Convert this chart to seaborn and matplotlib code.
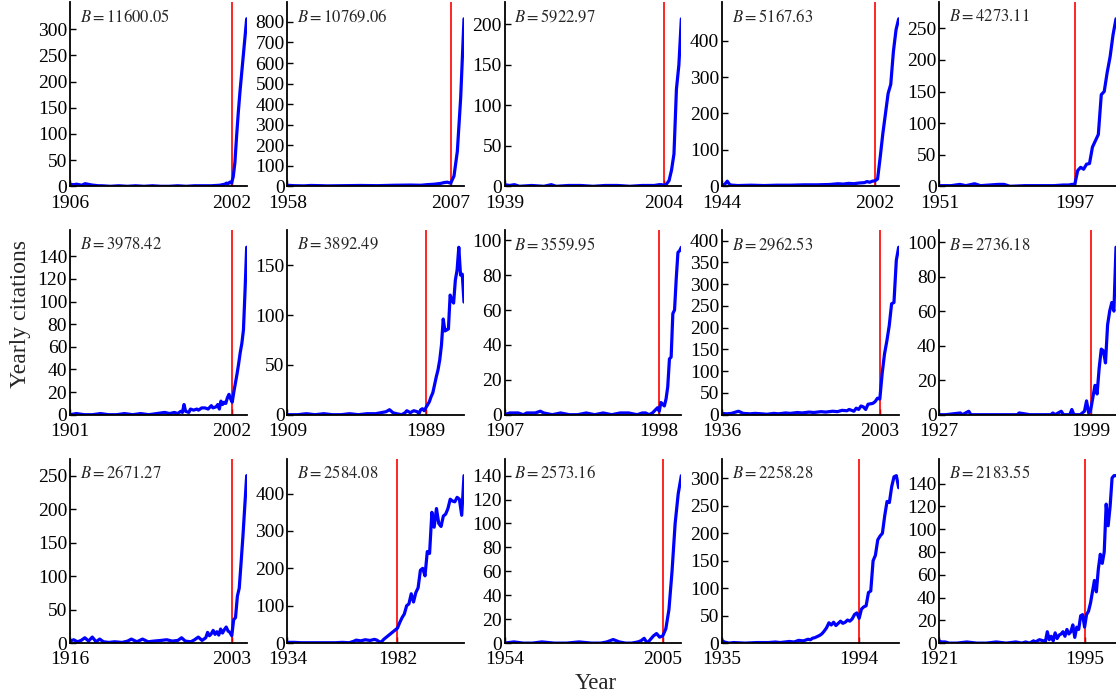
import matplotlib
matplotlib.use('Agg')
import numpy as np
import matplotlib.pyplot as plt
import seaborn as sns

# Tập dữ liệu: năm và số trích dẫn hằng năm của 15 bài báo "ngủ đông"
years_01 = [1906, 1908, 1910, 1913, 1915, 1918, 1920, 1923, 1925, 1930, 1935, 1940, 1945, 1950, 1955, 1960, 1965, 1970, 1975, 1980, 1985, 1990, 1995, 1998, 1999, 2000, 2001, 2002, 2003, 2004, 2005, 2006, 2007, 2008, 2009, 2010, 2011]
cites_01 = [4, 3, 4, 2, 5, 3, 2, 1, 1, 0, 1, 0, 1, 0, 1, 0, 0, 1, 0, 1, 1, 1, 2, 4, 6, 5, 8, 6, 18, 45, 95, 140, 180, 215, 250, 285, 320]

years_02 = [1958, 1960, 1963, 1965, 1968, 1970, 1975, 1980, 1985, 1990, 1995, 1998, 2000, 2002, 2003, 2004, 2005, 2006, 2007, 2008, 2009, 2010, 2011]
cites_02 = [5, 3, 2, 4, 3, 2, 3, 4, 3, 5, 6, 5, 8, 10, 12, 14, 18, 20, 15, 50, 170, 430, 815]

years_03 = [1939, 1941, 1943, 1945, 1950, 1955, 1958, 1960, 1965, 1970, 1975, 1980, 1985, 1990, 1995, 2000, 2002, 2003, 2004, 2005, 2006, 2007, 2008, 2009, 2010, 2011]
cites_03 = [2, 1, 2, 0, 1, 0, 2, 0, 1, 1, 0, 1, 1, 0, 1, 1, 2, 2, 1, 3, 7, 20, 40, 120, 150, 207]

years_04 = [1944, 1945, 1946, 1947, 1948, 1950, 1955, 1960, 1965, 1970, 1975, 1980, 1985, 1988, 1990, 1992, 1994, 1996, 1998, 1999, 2000, 2001, 2002, 2003, 2004, 2005, 2006, 2007, 2008, 2009, 2010, 2011]
cites_04 = [3, 5, 14, 4, 3, 2, 3, 2, 3, 3, 4, 4, 5, 7, 6, 8, 7, 9, 10, 13, 11, 14, 15, 20, 80, 145, 200, 255, 280, 370, 430, 460]

years_05 = [1951, 1955, 1958, 1960, 1963, 1965, 1968, 1971, 1973, 1975, 1980, 1985, 1990, 1993, 1995, 1996, 1997, 1998, 1999, 2000, 2001, 2002, 2003, 2004, 2005, 2006, 2007, 2008, 2009, 2010, 2011]
cites_05 = [1, 1, 3, 1, 4, 1, 2, 3, 3, 0, 1, 1, 1, 2, 2, 3, 3, 25, 30, 27, 35, 36, 62, 72, 82, 145, 150, 180, 205, 240, 265]

years_06 = [1901, 1905, 1910, 1915, 1920, 1925, 1930, 1935, 1940, 1945, 1950, 1955, 1960, 1963, 1966, 1968, 1970, 1971, 1972, 1973, 1975, 1976, 1978, 1980, 1981, 1983, 1985, 1987, 1989, 1990, 1992, 1993, 1994, 1995, 1996, 1997, 1998, 1999, 2000, 2001, 2002, 2003, 2004, 2005, 2006, 2007, 2008, 2009, 2010, 2011]
cites_06 = [0, 1, 0, 0, 1, 0, 0, 1, 0, 1, 0, 1, 2, 1, 2, 1, 3, 2, 9, 3, 2, 5, 4, 5, 4, 6, 6, 5, 8, 6, 7, 9, 5, 12, 9, 11, 10, 15, 18, 14, 11, 20, 28, 36, 45, 55, 63, 75, 110, 148]

years_07 = [1909, 1915, 1920, 1925, 1930, 1935, 1940, 1945, 1950, 1955, 1960, 1963, 1966, 1968, 1970, 1972, 1975, 1977, 1978, 1980, 1982, 1984, 1985, 1986, 1987, 1988, 1989, 1990, 1991, 1992, 1993, 1994, 1995, 1996, 1997, 1998, 1999, 2000, 2001, 2002, 2003, 2004, 2005, 2006, 2007, 2008, 2009, 2010, 2011]
cites_07 = [0, 0, 1, 0, 1, 0, 0, 1, 0, 1, 1, 2, 3, 5, 2, 1, 0, 2, 4, 2, 4, 3, 1, 5, 6, 4, 7, 10, 13, 18, 22, 30, 38, 45, 55, 70, 96, 84, 85, 86, 120, 115, 112, 135, 145, 168, 140, 141, 113]

years_08 = [1907, 1910, 1912, 1915, 1918, 1920, 1925, 1928, 1930, 1935, 1940, 1945, 1950, 1955, 1960, 1965, 1970, 1975, 1980, 1985, 1988, 1990, 1992, 1994, 1995, 1996, 1997, 1998, 1999, 2000, 2001, 2002, 2003, 2004, 2005, 2006, 2007, 2008, 2009, 2010, 2011]
cites_08 = [0, 1, 1, 1, 0, 1, 1, 2, 1, 0, 1, 0, 0, 1, 0, 1, 0, 1, 1, 0, 1, 1, 0, 1, 2, 3, 4, 2, 7, 6, 5, 9, 16, 32, 33, 58, 60, 78, 93, 94, 96]

years_09 = [1936, 1938, 1940, 1943, 1945, 1948, 1950, 1953, 1955, 1958, 1960, 1963, 1965, 1968, 1970, 1973, 1975, 1978, 1980, 1983, 1985, 1987, 1989, 1990, 1991, 1992, 1993, 1994, 1995, 1996, 1997, 1998, 1999, 2000, 2001, 2002, 2003, 2004, 2005, 2006, 2007, 2008, 2009, 2010, 2011]
cites_09 = [3, 2, 3, 8, 3, 2, 3, 2, 1, 3, 2, 4, 3, 5, 4, 6, 5, 7, 6, 8, 7, 10, 9, 12, 10, 8, 15, 12, 20, 18, 12, 24, 25, 26, 30, 38, 36, 95, 140, 170, 205, 255, 258, 355, 385]

years_10 = [1927, 1930, 1937, 1938, 1941, 1942, 1945, 1950, 1955, 1960, 1964, 1965, 1970, 1975, 1980, 1981, 1982, 1985, 1986, 1989, 1990, 1991, 1994, 1995, 1996, 1997, 1998, 1999, 2000, 2001, 2002, 2003, 2004, 2005, 2006, 2007, 2008, 2009, 2010, 2011]
cites_10 = [0, 0, 1, 0, 2, 0, 0, 0, 0, 0, 0, 1, 0, 0, 0, 1, 0, 2, 0, 0, 3, 0, 0, 1, 2, 8, 1, 3, 10, 17, 12, 27, 38, 37, 30, 52, 60, 65, 60, 97]

years_11 = [1916, 1918, 1920, 1922, 1924, 1926, 1928, 1930, 1932, 1934, 1937, 1940, 1944, 1947, 1949, 1952, 1955, 1958, 1961, 1965, 1968, 1971, 1974, 1976, 1978, 1981, 1983, 1985, 1987, 1989, 1990, 1991, 1992, 1993, 1994, 1995, 1996, 1997, 1998, 1999, 2000, 2001, 2002, 2003, 2004, 2005, 2006, 2007, 2008, 2009, 2010, 2011]
cites_11 = [3, 5, 2, 4, 8, 3, 9, 2, 6, 2, 1, 2, 1, 3, 6, 2, 6, 2, 3, 4, 5, 3, 4, 8, 3, 2, 5, 9, 4, 8, 16, 11, 14, 19, 13, 17, 12, 21, 15, 20, 24, 18, 16, 11, 35, 38, 70, 82, 120, 160, 205, 250]

years_12 = [1934, 1937, 1940, 1945, 1950, 1955, 1958, 1961, 1963, 1964, 1966, 1968, 1970, 1972, 1973, 1974, 1975, 1976, 1977, 1978, 1979, 1980, 1981, 1982, 1983, 1984, 1985, 1986, 1987, 1988, 1989, 1990, 1991, 1992, 1993, 1994, 1995, 1996, 1997, 1998, 1999, 2000, 2001, 2002, 2003, 2004, 2005, 2006, 2007, 2008, 2009, 2010, 2011]
cites_12 = [2, 2, 1, 1, 1, 1, 2, 1, 5, 8, 6, 9, 7, 10, 8, 4, 3, 10, 15, 20, 25, 30, 35, 40, 55, 68, 78, 100, 105, 132, 110, 135, 148, 195, 200, 180, 245, 240, 350, 310, 360, 320, 312, 340, 345, 360, 385, 380, 378, 390, 385, 342, 448]

years_13 = [1954, 1957, 1960, 1963, 1966, 1970, 1974, 1978, 1982, 1985, 1987, 1988, 1989, 1990, 1991, 1993, 1995, 1997, 1998, 1999, 2000, 2001, 2002, 2003, 2004, 2005, 2006, 2007, 2008, 2009, 2010, 2011]
cites_13 = [0, 1, 0, 0, 1, 0, 0, 1, 0, 0, 1, 2, 3, 2, 1, 0, 0, 1, 2, 4, 0, 3, 6, 8, 5, 6, 12, 28, 60, 100, 125, 140]

years_14 = [1935, 1936, 1938, 1940, 1945, 1950, 1955, 1958, 1960, 1962, 1964, 1966, 1968, 1970, 1972, 1973, 1974, 1975, 1976, 1977, 1978, 1979, 1980, 1981, 1982, 1983, 1984, 1985, 1986, 1987, 1988, 1989, 1990, 1991, 1992, 1993, 1994, 1995, 1996, 1997, 1998, 1999, 2000, 2001, 2002, 2003, 2004, 2005, 2006, 2007, 2008, 2009, 2010, 2011]
cites_14 = [5, 2, 0, 1, 0, 1, 1, 2, 1, 2, 3, 2, 5, 4, 7, 6, 9, 10, 12, 14, 17, 22, 28, 37, 33, 38, 32, 36, 40, 36, 38, 42, 40, 44, 52, 55, 45, 62, 66, 68, 92, 95, 150, 160, 188, 195, 200, 232, 258, 256, 285, 303, 305, 283]

years_15 = [1921, 1922, 1924, 1926, 1930, 1935, 1940, 1945, 1950, 1955, 1960, 1963, 1965, 1967, 1969, 1970, 1972, 1974, 1975, 1976, 1977, 1978, 1979, 1980, 1981, 1982, 1983, 1984, 1985, 1986, 1987, 1988, 1989, 1990, 1991, 1992, 1993, 1994, 1995, 1996, 1997, 1998, 1999, 2000, 2001, 2002, 2003, 2004, 2005, 2006, 2007, 2008, 2009, 2010, 2011]
cites_15 = [2, 1, 1, 0, 0, 1, 0, 0, 1, 0, 1, 0, 1, 0, 2, 1, 3, 2, 1, 10, 3, 6, 2, 9, 4, 7, 8, 10, 6, 12, 8, 10, 16, 5, 14, 12, 24, 25, 14, 25, 28, 35, 45, 55, 45, 65, 78, 70, 80, 122, 103, 120, 145, 147, 147]

# Năm bắt đầu, năm "thức giấc" và hệ số B của từng bài
start_years = [1906, 1958, 1939, 1944, 1951, 1901, 1909, 1907, 1936, 1927, 1916, 1934, 1954, 1935, 1921]
awake_years = [2002, 2007, 2004, 2002, 1997, 2002, 1989, 1998, 2003, 1999, 2003, 1982, 2005, 1994, 1995]
b_values = ['11600.05', '10769.06', '5922.97', '5167.63', '4273.11', '3978.42', '3892.49', '3559.95',
            '2962.53', '2736.18', '2671.27', '2584.08', '2573.16', '2258.28', '2183.55']
y_steps = [50, 100, 50, 100, 50, 20, 50, 20, 50, 20, 50, 100, 20, 50, 20]
end_year = 2011

all_years = [years_01, years_02, years_03, years_04, years_05, years_06, years_07, years_08,
             years_09, years_10, years_11, years_12, years_13, years_14, years_15]
all_cites = [cites_01, cites_02, cites_03, cites_04, cites_05, cites_06, cites_07, cites_08,
             cites_09, cites_10, cites_11, cites_12, cites_13, cites_14, cites_15]

sns.set_style('ticks')
plt.rcParams['font.family'] = ['Liberation Serif', 'DejaVu Serif']
plt.rcParams['mathtext.fontset'] = 'stix'
plt.rcParams['axes.edgecolor'] = 'black'
plt.rcParams['xtick.color'] = 'black'
plt.rcParams['ytick.color'] = 'black'

fig, axes = plt.subplots(3, 5, figsize=(11.16, 6.96), dpi=100)
fig.subplots_adjust(left=0.0627, right=1.0, bottom=0.076, top=0.997, wspace=0.23, hspace=0.24)

for i, ax in enumerate(axes.flat):
    yrs, cts = all_years[i], all_cites[i]
    ax.axvline(awake_years[i], color='red', lw=1.2, zorder=1.5)
    sns.lineplot(x=yrs, y=cts, ax=ax, color='blue', lw=2.3, zorder=2)

    ymax = 1.1 * max(cts)
    ax.set_xlim(start_years[i], end_year)
    ax.set_ylim(0, ymax)
    ax.set_xticks([start_years[i], awake_years[i]])
    ax.set_yticks(np.arange(0, 0.97 * ymax, y_steps[i]))
    ax.tick_params(direction='in', length=4, width=1, labelsize=14)
    ax.tick_params(axis='y', pad=2)
    ax.tick_params(axis='x', pad=6)
    ax.set_xlabel('')
    ax.set_ylabel('')
    for side in ['top', 'right']:
        ax.spines[side].set_visible(False)
    for side in ['left', 'bottom']:
        ax.spines[side].set_linewidth(1.3)

    ax.text(0.055, 0.965, f'$B={b_values[i]}$', transform=ax.transAxes,
            ha='left', va='top', fontsize=12)

fig.text(0.018, 0.549, 'Yearly citations', rotation=90, ha='center', va='center', fontsize=17)
fig.text(0.534, 0.018, 'Year', ha='center', va='center', fontsize=16.5)

plt.savefig('out.png', dpi=100)
